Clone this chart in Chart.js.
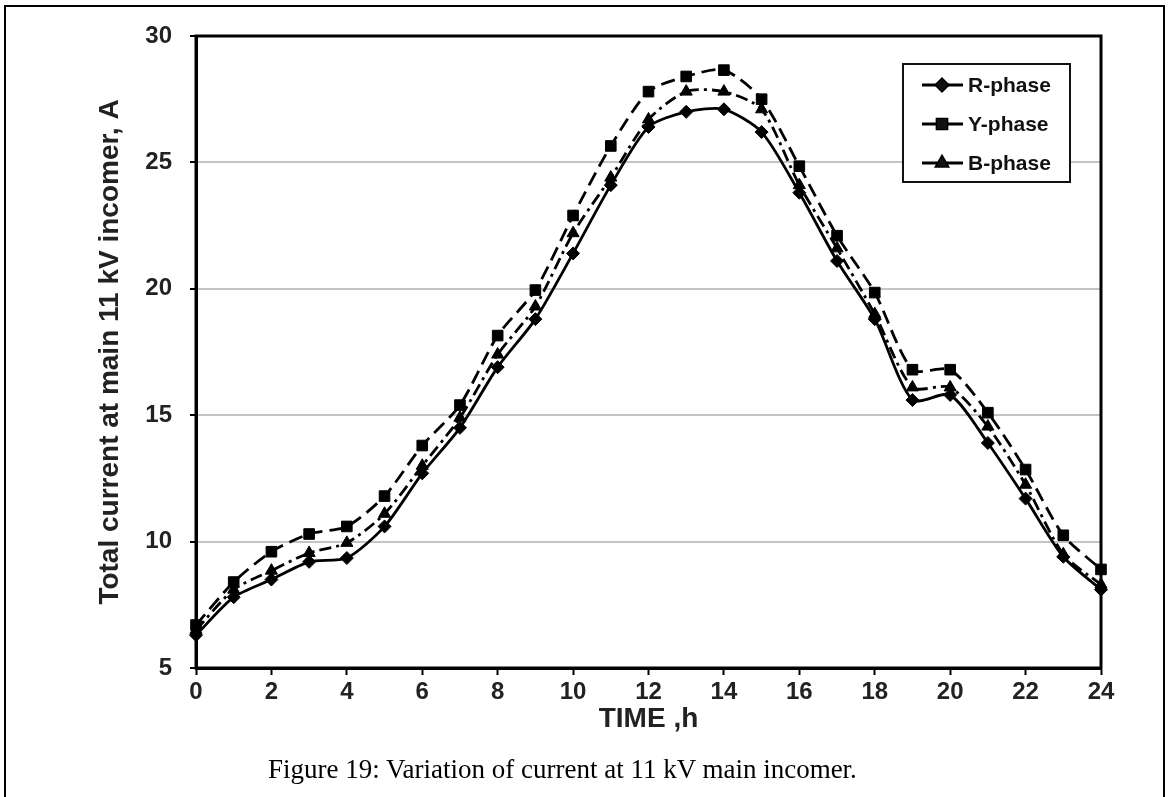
<!DOCTYPE html>
<html>
<head>
<meta charset="utf-8">
<title>Current at 11 kV main incomer</title>
<script src="https://cdn.jsdelivr.net/npm/chart.js@4.4.0/dist/chart.umd.min.js"></script>
<style>
  body { margin: 0; background: #fff; }
  #frame { position: absolute; left: 4px; top: 5px; width: 1157px; height: 820px; border: 2px solid #000; border-bottom: none; }
  #wrap { position: absolute; left: 0; top: 0; width: 1170px; height: 797px; }
  #caption { position: absolute; left: 268px; top: 754px; font-family: "Liberation Serif", "Times New Roman", serif; font-size: 27px; color: #000; white-space: nowrap; }
</style>
</head>
<body>
<div id="frame"></div>
<div id="wrap"><canvas id="currentChart" width="1170" height="797"></canvas></div>
<div id="caption">Figure 19: Variation of current at 11 kV main incomer.</div>
<script>
// hourly readings, amps
var hours = [0, 1, 2, 3, 4, 5, 6, 7, 8, 9, 10, 11, 12, 13, 14, 15, 16, 17, 18, 19, 20, 21, 22, 23, 24];
var rPhase = [6.3, 7.8, 8.5, 9.2, 9.35, 10.6, 12.7, 14.5, 16.9, 18.8, 21.4, 24.1, 26.4, 27.0, 27.1, 26.2, 23.8, 21.1, 18.8, 15.6, 15.8, 13.9, 11.7, 9.4, 8.1];
var yPhase = [6.7, 8.4, 9.6, 10.3, 10.6, 11.8, 13.8, 15.4, 18.15, 19.95, 22.9, 25.65, 27.8, 28.4, 28.65, 27.5, 24.85, 22.1, 19.85, 16.8, 16.8, 15.1, 12.85, 10.25, 8.9];
var bPhase = [6.5, 8.1, 8.85, 9.55, 9.95, 11.1, 13.0, 14.9, 17.4, 19.3, 22.2, 24.4, 26.7, 27.8, 27.8, 27.1, 24.1, 21.6, 19.0, 16.1, 16.1, 14.55, 12.25, 9.5, 8.3];
var seriesNames = ['R-phase', 'Y-phase', 'B-phase'];

function toPoints(vals) {
  return vals.map(function(v, i) { return {x: hours[i], y: v}; });
}

var lineStyles = [
  {dash: [], point: 'rectRot', radius: 6.5},
  {dash: [14, 7], point: 'rect', radius: 7.5},
  {dash: [12, 5, 3, 5], point: 'triangle', radius: 7}
];

var datasets = [rPhase, yPhase, bPhase].map(function(vals, i) {
  return {
    label: seriesNames[i],
    data: toPoints(vals),
    borderColor: '#000',
    backgroundColor: '#000',
    borderWidth: 2.8,
    borderDash: lineStyles[i].dash,
    pointStyle: lineStyles[i].point,
    pointRadius: lineStyles[i].radius,
    pointBackgroundColor: '#000',
    pointBorderColor: '#000',
    pointBorderWidth: 1,
    tension: 0.25,
    clip: false
  };
});

// black box round the plot area
var plotFrame = {
  id: 'plotFrame',
  beforeDatasetsDraw: function(chart) {
    var ca = chart.chartArea, ctx = chart.ctx;
    ctx.save();
    ctx.strokeStyle = '#000';
    ctx.lineWidth = 3;
    ctx.strokeRect(ca.left, ca.top, ca.right - ca.left, ca.bottom - ca.top);
    ctx.restore();
  }
};

// legend box with line + marker samples
var boxLegend = {
  id: 'boxLegend',
  afterDraw: function(chart) {
    var ca = chart.chartArea, ctx = chart.ctx;
    var bx = ca.right - 198, by = ca.top + 28, bw = 167, bh = 118;
    ctx.save();
    ctx.fillStyle = '#fff';
    ctx.fillRect(bx, by, bw, bh);
    ctx.strokeStyle = '#111';
    ctx.lineWidth = 2;
    ctx.strokeRect(bx, by, bw, bh);
    ctx.font = 'bold 21px "Liberation Sans", Arial, sans-serif';
    ctx.textBaseline = 'middle';
    ctx.fillStyle = '#111';
    chart.data.datasets.forEach(function(ds, i) {
      var ry = by + 21 + i * 39;
      ctx.strokeStyle = '#000';
      ctx.lineWidth = 2.8;
      ctx.beginPath();
      ctx.moveTo(bx + 19, ry);
      ctx.lineTo(bx + 60, ry);
      ctx.stroke();
      Chart.helpers.drawPoint(ctx, {pointStyle: ds.pointStyle, radius: ds.pointRadius - 0.5, borderWidth: 1}, bx + 39, ry);
      ctx.fill();
      ctx.fillText(ds.label, bx + 65, ry + 1);
    });
    ctx.restore();
  }
};

var tickFont = {family: '"Liberation Sans", Arial, sans-serif', size: 24, weight: 'bold'};
var titleFont = {family: '"Liberation Sans", Arial, sans-serif', size: 28, weight: 'bold'};

var ctx = document.getElementById('currentChart');
var chart = new Chart(ctx, {
  type: 'line',
  data: {datasets: datasets},
  options: {
    responsive: false,
    animation: false,
    layout: {padding: {left: 93, top: 36, right: 69, bottom: 59}},
    plugins: {legend: {display: false}, tooltip: {enabled: false}},
    scales: {
      x: {
        type: 'linear',
        min: 0,
        max: 24,
        ticks: {stepSize: 2, color: '#222', font: tickFont, padding: 3, maxRotation: 0},
        grid: {drawOnChartArea: false, tickLength: 7, tickColor: '#000', tickWidth: 2},
        border: {display: true, color: '#000', width: 3},
        title: {display: true, text: 'TIME ,h', color: '#222', font: titleFont, padding: {top: 0, bottom: 2}},
        afterFit: function(s) { s.height = 70; s.paddingLeft = 0; s.paddingRight = 0; }
      },
      y: {
        min: 5,
        max: 30,
        ticks: {stepSize: 5, color: '#222', font: tickFont, padding: 18},
        grid: {color: '#c4c4c4', lineWidth: 2, tickColor: '#000', tickLength: 6, tickWidth: 2},
        border: {display: true, color: '#000', width: 3},
        title: {display: true, text: 'Total current at main 11 kV incomer, A', color: '#222', font: titleFont, padding: 0},
        afterFit: function(s) { s.width = 103; s.paddingTop = 0; s.paddingBottom = 0; }
      }
    }
  },
  plugins: [plotFrame, boxLegend]
});
</script>
</body>
</html>
